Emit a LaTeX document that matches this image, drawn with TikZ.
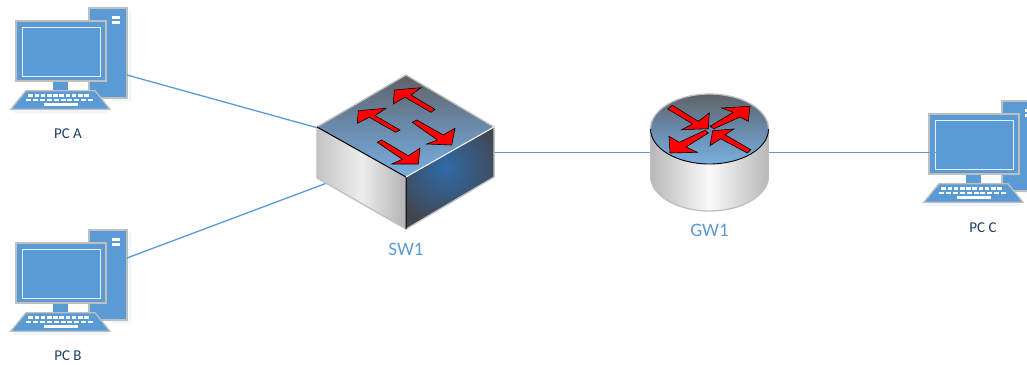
\documentclass[tikz,border=0pt]{standalone}
\usepackage{fontspec}
\setmainfont{Carlito}
\usetikzlibrary{calc,positioning}
\definecolor{netblue}{HTML}{5B9BD5}
\definecolor{netrim}{HTML}{BFBFBF}
\definecolor{pclabel}{HTML}{1F3F66}
\definecolor{topdark}{HTML}{5F6267}
\definecolor{topmid}{HTML}{6A8AAB}
\definecolor{toplight}{HTML}{79AEDF}
\definecolor{swdark}{HTML}{42464F}
\definecolor{swblue}{HTML}{2F6AA8}
\tikzset{
    wire/.style={draw=netblue, line width=1.3pt},
    pclabeltext/.style={text=pclabel, font=\fontsize{15}{18}\selectfont},
    devlabeltext/.style={text=netblue, font=\fontsize{19}{22}\selectfont},
    arrowshape/.style={fill=red, draw=black, line width=0.6pt, line join=miter},
    pcpart/.style={fill=netblue, draw=netrim, line width=1.3pt},
    pics/pcicon/.style={code={
        % Soft shadow
        \fill[netblue!10] (12,110) -- (109,110) -- (106,113) -- (15,113) -- cycle;
        \fill[netblue!10] (112,99) -- (129,99) -- (129,9) -- (131,11) -- (131,101) -- (112,101) -- cycle;
        % Tower
        \path[pcpart] (89,8) rectangle (127,98);
        \fill[white] (112,15.7) rectangle (120,19);
        \fill[white] (112,21) rectangle (120,24.3);
        % Stand and monitor
        \fill[netblue] (52.5,81) rectangle (68,91);
        \path[pcpart] (16,21) rectangle (106,81);
        \draw[draw=white!85!netblue, line width=0.9pt] (22,27) rectangle (100,76);
        % Keyboard
        \path[pcpart] (10.7,109.3) -- (110,109.3) -- (95,90.7) -- (26,90.7) -- cycle;
        \foreach \k in {0,...,9} {
            \fill[white] ({28.3+6.2*\k},94) rectangle ++(4.6,2.5);
            \fill[white] ({26+6.9*\k},98.7) rectangle ++(5,2.5);
        }
        \fill[white] (44,103.3) rectangle (77.7,105.7);
    }}
}

\begin{document}
\begin{tikzpicture}[x=1pt, y=-1pt]
    \useasboundingbox (0,0) rectangle (1027,364);
    % Connector ends
    \coordinate (pcaport) at (127,75);
    \coordinate (pcbport) at (127,258);
    \coordinate (pccport) at (936,152.5);
    \coordinate (swporta) at (318,128);
    \coordinate (swportb) at (327,183);
    \coordinate (swportc) at (494,152.5);
    \coordinate (gwporta) at (651,152.5);
    \coordinate (gwportb) at (768,152.5);
    % Computers
    \pic at (0,0) {pcicon};
    \pic at (0,222) {pcicon};
    \pic at (913,93) {pcicon};
    % Wires
    \draw[wire] (pcaport) -- (swporta);
    \draw[wire] (pcbport) -- (swportb);
    \draw[wire] (swportc) -- (gwporta);
    \draw[wire] (gwportb) -- (pccport);
    % Switch faces
    \shade[left color=black!23, right color=black!30, middle color=black!7]
        (317,127) -- (406,177) -- (406,229) -- (317,178) -- cycle;
    \begin{scope}
        \clip (406,177) -- (494,127) -- (494,177) -- (406,229) -- cycle;
        \fill[swdark] (400,120) rectangle (500,235);
        \shade[inner color=swblue, outer color=swdark] (446,168) circle (58pt);
    \end{scope}
    \shade[top color=topdark, bottom color=toplight, middle color=topmid]
        (406,75) -- (494,127) -- (406,177) -- (317,127) -- cycle;
    \draw[netrim, line width=1.3pt, line join=round]
        (406,75) -- (494,127) -- (494,177) -- (406,229) -- (317,178) -- (317,127) -- cycle;
    \draw[black, line width=1pt] (317,127) -- (406,177) -- (406,229);
    \draw[white, line width=1pt] (406,177) -- (494,127);
    % Switch arrows
    \draw[arrowshape] (394.3,90) -- (421,87.7) -- (411,95) -- (435,109.3) -- (431,112.3) -- (405,97.3) -- (393.3,104) -- cycle;
    \draw[arrowshape] (358.3,110.7) -- (386,108.3) -- (375,115.7) -- (400,130) -- (395.7,132.3) -- (369.3,117.3) -- (357.3,123.3) -- cycle;
    \draw[arrowshape] (412.3,122.3) -- (416.7,120) -- (443.3,135) -- (455,128.3) -- (451.7,145) -- (426.7,144) -- (437.3,140) -- cycle;
    \draw[arrowshape] (377.3,142.3) -- (381.7,140) -- (408.3,155.7) -- (420,148.3) -- (418.3,164) -- (391.7,164) -- (402.3,159.3) -- cycle;
    % Router body
    \shade[left color=black!28, right color=black!28, middle color=white!98!black, draw=netrim, line width=1.3pt]
        (650.5,129) -- (650.5,176) arc[start angle=180, end angle=360, x radius=59pt, y radius=35pt] -- (768.5,129) -- cycle;
    \shade[top color=topdark, bottom color=toplight, middle color=topmid]
        (709.5,129) ellipse [x radius=59pt, y radius=35pt];
    \draw[netrim, line width=1.3pt] (650.5,129) arc[start angle=180, end angle=0, x radius=59pt, y radius=35pt];
    \draw[black, line width=0.9pt] (650.5,129) arc[start angle=180, end angle=360, x radius=59pt, y radius=35pt];
    % Router arrows
    \draw[arrowshape] (667.7,109) -- (672.3,105.3) -- (698.3,121.3) -- (709.3,113) -- (708.3,128.7) -- (681.7,129.7) -- (692.7,124) -- cycle;
    \draw[arrowshape] (710,126.3) -- (733.3,112.3) -- (721.7,108) -- (750,106.3) -- (748.3,121.3) -- (740,117) -- (714,128.7) -- cycle;
    \draw[arrowshape] (705,130.3) -- (708.3,133) -- (686,147) -- (697.3,152.3) -- (670,153) -- (669,136.3) -- (679.3,142.3) -- cycle;
    \draw[arrowshape] (750.7,149.7) -- (747.3,153) -- (720.7,138.7) -- (710,145.7) -- (712.7,130.7) -- (734,129) -- (725,134.7) -- cycle;
    % Labels
    \node[pclabeltext] (pcalabel) at (68,134) {PC A};
    \node[pclabeltext] (pcblabel) at (68,356) {PC B};
    \node[pclabeltext] (pcclabel) at (983,228) {PC C};
    \node[devlabeltext] (swlabel) at (406,249) {SW1};
    \node[devlabeltext] (gwlabel) at (709.5,230) {GW1};
\end{tikzpicture}
\end{document}
